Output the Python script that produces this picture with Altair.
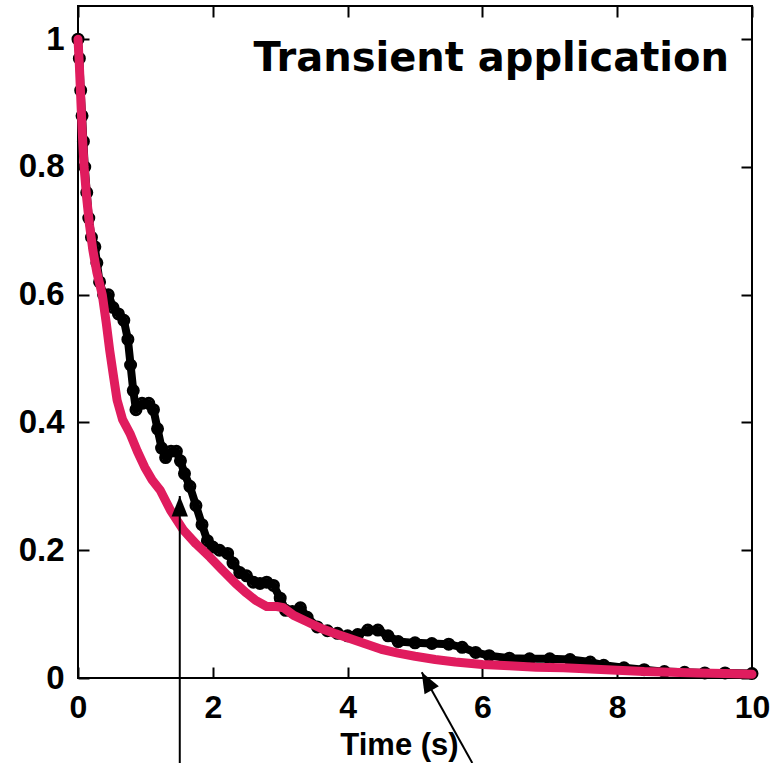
import altair as alt
import pandas as pd

# Normalised decay traces, time in seconds
black_t = [0.00, 0.02, 0.04, 0.06, 0.08, 0.10, 0.13, 0.16, 0.20, 0.25, 0.28, 0.32,
           0.38, 0.45, 0.52, 0.60, 0.68, 0.74, 0.78, 0.82, 0.86, 0.95, 1.05, 1.12,
           1.18, 1.24, 1.30, 1.38, 1.46, 1.52, 1.58, 1.66, 1.75, 1.84, 1.92, 2.00,
           2.10, 2.22, 2.30, 2.40, 2.50, 2.60, 2.70, 2.80, 2.90, 3.00, 3.08, 3.18,
           3.30, 3.40, 3.55, 3.70, 3.85, 4.00, 4.15, 4.30, 4.45, 4.60, 4.75, 5.00,
           5.25, 5.50, 5.70, 5.90, 6.10, 6.40, 6.70, 7.00, 7.30, 7.60, 7.80, 8.10,
           8.40, 8.70, 9.00, 9.30, 9.60, 10.00]
black_v = [1.00, 0.97, 0.92, 0.88, 0.84, 0.80, 0.76, 0.72, 0.69, 0.675, 0.65, 0.62,
           0.60, 0.60, 0.58, 0.57, 0.56, 0.53, 0.49, 0.45, 0.42, 0.43, 0.43, 0.42,
           0.39, 0.36, 0.345, 0.355, 0.355, 0.34, 0.32, 0.30, 0.27, 0.24, 0.215, 0.205,
           0.20, 0.195, 0.18, 0.165, 0.16, 0.15, 0.148, 0.15, 0.145, 0.125, 0.106, 0.104,
           0.11, 0.095, 0.08, 0.074, 0.07, 0.066, 0.068, 0.075, 0.075, 0.066, 0.057, 0.055,
           0.054, 0.053, 0.048, 0.040, 0.035, 0.031, 0.030, 0.030, 0.029, 0.025, 0.020, 0.016,
           0.013, 0.010, 0.009, 0.008, 0.008, 0.007]

pink_t = [0.00, 0.02, 0.04, 0.06, 0.09, 0.13, 0.17, 0.22, 0.28, 0.36, 0.42, 0.47,
          0.53, 0.58, 0.66, 0.77, 0.88, 0.99, 1.10, 1.22, 1.37, 1.56, 1.75, 1.96,
          2.15, 2.33, 2.50, 2.63, 2.80, 2.95, 3.05, 3.20, 3.40, 3.60, 3.80, 4.00,
          4.25, 4.50, 4.75, 5.00, 5.30, 5.60, 6.00, 6.40, 6.80, 7.20, 7.60, 8.00,
          8.40, 8.80, 9.20, 9.60, 10.00]
pink_v = [1.00, 0.96, 0.91, 0.86, 0.80, 0.75, 0.71, 0.67, 0.635, 0.60, 0.555, 0.513,
          0.47, 0.435, 0.405, 0.383, 0.355, 0.33, 0.31, 0.294, 0.263, 0.232, 0.21, 0.189,
          0.168, 0.149, 0.133, 0.122, 0.112, 0.112, 0.110, 0.098, 0.088, 0.078, 0.070, 0.063,
          0.054, 0.045, 0.039, 0.034, 0.029, 0.025, 0.021, 0.019, 0.017, 0.016, 0.014, 0.012,
          0.010, 0.009, 0.008, 0.007, 0.006]

x_ticks = [0, 2, 4, 6, 8, 10]
y_ticks = [0, 0.2, 0.4, 0.6, 0.8, 1.0]
x_title = "Time (s)"
panel_label = "Transient application"

# Pointer arrows (tip and tail in data units)
arrow_tip_t = [1.51, 5.10]
arrow_tip_v = [0.285, 0.009]
arrow_tail_t = [1.51, 5.85]
arrow_tail_v = [-0.133, -0.133]
arrow_angle = [0, 331]

black_df = pd.DataFrame({"t": black_t, "v": black_v})
pink_df = pd.DataFrame({"t": pink_t, "v": pink_v})
arrow_df = pd.DataFrame({"t": arrow_tip_t, "v": arrow_tip_v,
                         "t0": arrow_tail_t, "v0": arrow_tail_v,
                         "angle": arrow_angle})

FONT = "Liberation Sans"
PINK = "#E01C5E"
LABEL_SIZE = 32

x_scale = alt.Scale(domain=[0, 10], nice=False, zero=False)
y_scale = alt.Scale(domain=[0, 1.052], nice=False, zero=False)

main_x_axis = alt.Axis(orient="bottom", values=x_ticks, ticks=False, domain=False, grid=False,
                       labelFont=FONT, labelFontSize=LABEL_SIZE, labelFontWeight="bold",
                       labelColor="black", labelPadding=14, labelFlush=False, labelOverlap=False,
                       title=x_title, titleFont=FONT, titleFontSize=31,
                       titleFontWeight="bold", titleColor="black", titleX=321, titleY=76,
                       titleAlign="center", titleBaseline="alphabetic")
main_y_axis = alt.Axis(orient="left", values=y_ticks, format="~g", ticks=False, domain=False,
                       grid=False, labelFont=FONT, labelFontSize=33,
                       labelFontWeight="bold", labelColor="black", labelPadding=14,
                       labelOverlap=False, labelFlush=False, title=None)


def inner_ticks(orient, values):
    # ticks drawn inward: axis shifted into the plot, ticks reach back to the frame
    return alt.Axis(orient=orient, values=values, offset=-11, tickSize=11, tickWidth=2,
                    tickColor="black", labels=False, domain=False, grid=False, title=None)


black_line = alt.Chart(black_df).mark_line(color="black", strokeWidth=8, strokeJoin="round",
                                           strokeCap="round").encode(
    x=alt.X("t:Q", scale=x_scale, axis=main_x_axis),
    y=alt.Y("v:Q", scale=y_scale, axis=main_y_axis),
    order="t:Q",
)

black_pts = alt.Chart(black_df).mark_point(shape="circle", filled=False, color="black",
                                           size=100, strokeWidth=3, opacity=1).encode(
    x=alt.X("t:Q", scale=x_scale, axis=None),
    y=alt.Y("v:Q", scale=y_scale, axis=None),
)

pink_line = alt.Chart(pink_df).mark_line(color=PINK, strokeWidth=9, strokeJoin="round",
                                         strokeCap="round").encode(
    x=alt.X("t:Q", scale=x_scale, axis=None),
    y=alt.Y("v:Q", scale=y_scale, axis=None),
    order="t:Q",
)

ticks_bl = alt.Chart(pink_df).mark_point(opacity=0).encode(
    x=alt.X("t:Q", scale=x_scale, axis=inner_ticks("bottom", x_ticks)),
    y=alt.Y("v:Q", scale=y_scale, axis=inner_ticks("left", y_ticks)),
)
ticks_tr = alt.Chart(pink_df).mark_point(opacity=0).encode(
    x=alt.X("t:Q", scale=x_scale, axis=inner_ticks("top", x_ticks)),
    y=alt.Y("v:Q", scale=y_scale, axis=inner_ticks("right", y_ticks)),
)

arrow_lines = alt.Chart(arrow_df).mark_rule(color="black", strokeWidth=2).encode(
    x=alt.X("t0:Q", scale=x_scale, axis=None),
    y=alt.Y("v0:Q", scale=y_scale, axis=None),
    x2="t:Q",
    y2="v:Q",
)

arrow_heads = alt.Chart(arrow_df).mark_point(shape="M0,0L-0.8,2L0.8,2Z", filled=True,
                                             color="black", size=420, opacity=1).encode(
    x=alt.X("t:Q", scale=x_scale, axis=None),
    y=alt.Y("v:Q", scale=y_scale, axis=None),
    angle=alt.Angle("angle:Q", scale=None),
)

label = alt.Chart(pd.DataFrame({"label": [panel_label]})).mark_text(
    font="DejaVu Sans", fontSize=40, fontWeight="bold", align="right",
    baseline="alphabetic", color="black").encode(
    x=alt.value(651), y=alt.value(65), text="label:N")

chart = alt.layer(
    black_line, black_pts, pink_line, ticks_bl, ticks_tr, arrow_lines, arrow_heads, label
).resolve_axis(
    x="independent", y="independent"
).properties(
    width=674, height=672,
    padding={"left": 78, "top": 6, "right": 19, "bottom": 85},
    autosize=alt.AutoSizeParams(type="none"),
    background="white",
).configure_view(stroke="black", strokeWidth=2)

chart.save("out.html", embed_options={"renderer": "svg", "actions": False})
